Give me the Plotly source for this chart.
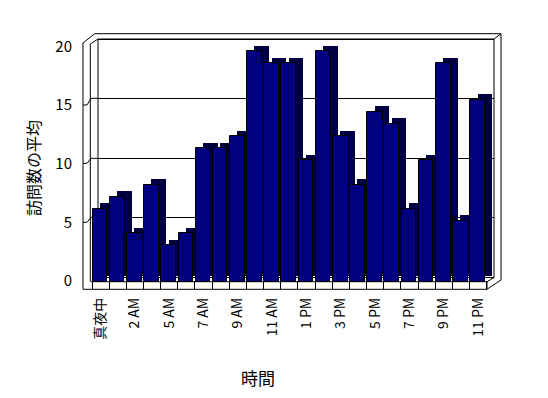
import plotly.graph_objects as go

# ---- data ----
hours = ["真夜中", "1 AM", "2 AM", "4 AM", "5 AM", "6 AM", "7 AM", "8 AM", "9 AM", "10 AM",
         "11 AM", "12 PM", "1 PM", "2 PM", "3 PM", "4 PM", "5 PM", "6 PM", "7 PM", "8 PM",
         "9 PM", "10 PM", "11 PM"]
visits = [6, 7, 4, 8, 3, 4, 11, 11, 12, 19, 18, 18, 10, 19, 12, 8, 14, 13, 6, 10, 18, 5, 15]
tick_labels = ["真夜中", "", "2 AM", "", "5 AM", "", "7 AM", "", "9 AM", "", "11 AM", "",
               "1 PM", "", "3 PM", "", "5 PM", "", "7 PM", "", "9 PM", "", "11 PM"]
y_ticks = [0, 5, 10, 15, 20]
y_title = "訪問数の平均"
x_title = "時間"

FONT = "Noto Sans CJK JP"
OFF = 8                      # page body margin
W, H = 548 - OFF, 398 - OFF
L, R, T, B = 83, 505, 30, 289  # plot area in window pixels


def px(x, y):
    return (x - L) / (R - L), (B - y) / (B - T)


fig = go.Figure()

# depth (side/top) faces of the pseudo-3D columns
fig.add_trace(go.Bar(
    x=hours, y=visits, base=0.46, offset=-0.034, width=0.851,
    marker=dict(color="#000040", line=dict(width=0)),
    xaxis="x2", yaxis="y2", hoverinfo="skip", showlegend=False))
# front faces
fig.add_trace(go.Bar(
    x=hours, y=visits, offset=-0.459, width=0.851,
    marker=dict(color="#000080", line=dict(width=1, color="black")),
    xaxis="x2", yaxis="y2", showlegend=False))
# empty traces so that the wall-grid axis and the label axis are drawn
fig.add_trace(go.Scatter(x=[], y=[], xaxis="x", yaxis="y", showlegend=False, hoverinfo="skip"))
fig.add_trace(go.Scatter(x=[], y=[], xaxis="x2", yaxis="y3", showlegend=False, hoverinfo="skip"))

# wall outlines (decoration)
segs = [
    (83, 43, 83, 289.3), (90.3, 44, 90.3, 281.7), (98, 39, 98, 277),
    (83, 43, 94.7, 33.7), (90.3, 44, 98, 39),
    (94.7, 33.7, 501, 33.7), (98, 39, 494, 39),
    (494, 39, 501, 33.7), (494, 39, 494, 277.7), (501, 33.7, 501, 280),
    (91, 281.7, 487, 281.7), (83, 289.3, 487, 289.3), (487, 281.7, 487, 289.3),
    (487, 289.3, 501, 280), (487, 281.7, 494, 277.7),
]
shapes = []
for x0, y0, x1, y1 in segs:
    a, b = px(x0, y0)
    c, d = px(x1, y1)
    shapes.append(dict(type="line", xref="paper", yref="paper", x0=a, y0=b, x1=c, y1=d,
                       line=dict(color="black", width=1), layer="below"))
for f, bk in [(105, 98.3), (163.3, 158.3), (222.3, 217.3)]:
    pts = [px(83, f), px(87, f), px(91, bk), px(98, bk)]
    path = "M " + " L ".join(f"{p[0]},{p[1]}" for p in pts)
    shapes.append(dict(type="path", xref="paper", yref="paper", path=path,
                       line=dict(color="black", width=1), layer="below"))

ax, ay = px(33, 168)
bx, by = px(258, 377)
annotations = [
    dict(text=y_title, xref="paper", yref="paper", x=ax, y=ay, showarrow=False,
         textangle=-90, font=dict(family=FONT, size=16, color="black"),
         xanchor="center", yanchor="middle"),
    dict(text=x_title, xref="paper", yref="paper", x=bx, y=by, showarrow=False,
         font=dict(family=FONT, size=17, color="black"),
         xanchor="center", yanchor="middle"),
]

bw0 = px(98, 0)[0]
bw1 = px(494, 0)[0]

fig.update_layout(
    width=W, height=H,
    margin=dict(l=L - OFF, r=548 - R, t=T - OFF, b=398 - B, pad=0, autoexpand=False),
    paper_bgcolor="white", plot_bgcolor="rgba(0,0,0,0)",
    font=dict(family=FONT, color="black"),
    barmode="overlay", bargap=0,
    shapes=shapes, annotations=annotations,
    # back wall axis (gridlines only)
    xaxis=dict(domain=[bw0, bw1], range=[0, 1], showticklabels=False, ticks="",
               showline=False, showgrid=False, zeroline=False, fixedrange=True),
    yaxis=dict(domain=[0, 1], anchor="x", range=[-(B - 277) / 11.9, (277 - T) / 11.9],
               tickvals=y_ticks, showticklabels=False, ticks="", showgrid=True,
               gridcolor="black", gridwidth=1, zeroline=False, showline=False),
    # bar axes
    xaxis2=dict(domain=[0, 1], anchor="y2", type="category",
                range=[(L - 100.58) / 17.16, (R - 100.58) / 17.16],
                tickmode="array", tickvals=hours, ticktext=tick_labels,
                tickson="boundaries", ticks="inside", ticklen=7.6, tickcolor="black",
                tickwidth=1, tickangle=-90, ticklabelstandoff=5,
                tickfont=dict(family=FONT, size=14, color="black"),
                showline=False, showgrid=False, zeroline=False),
    yaxis2=dict(domain=[0, 1], anchor="x2", range=[-(B - 281.7) / 12.13, (281.7 - T) / 12.13],
                visible=False),
    yaxis3=dict(overlaying="y2", anchor="x2", side="left",
                range=[-(B - 281) / 11.73, (281 - T) / 11.73],
                tickmode="array", tickvals=y_ticks, ticks="", showgrid=False,
                zeroline=False, showline=False, ticklabelstandoff=10,
                tickfont=dict(family=FONT, size=15, color="black")),
)

fig.write_html("out.html")
